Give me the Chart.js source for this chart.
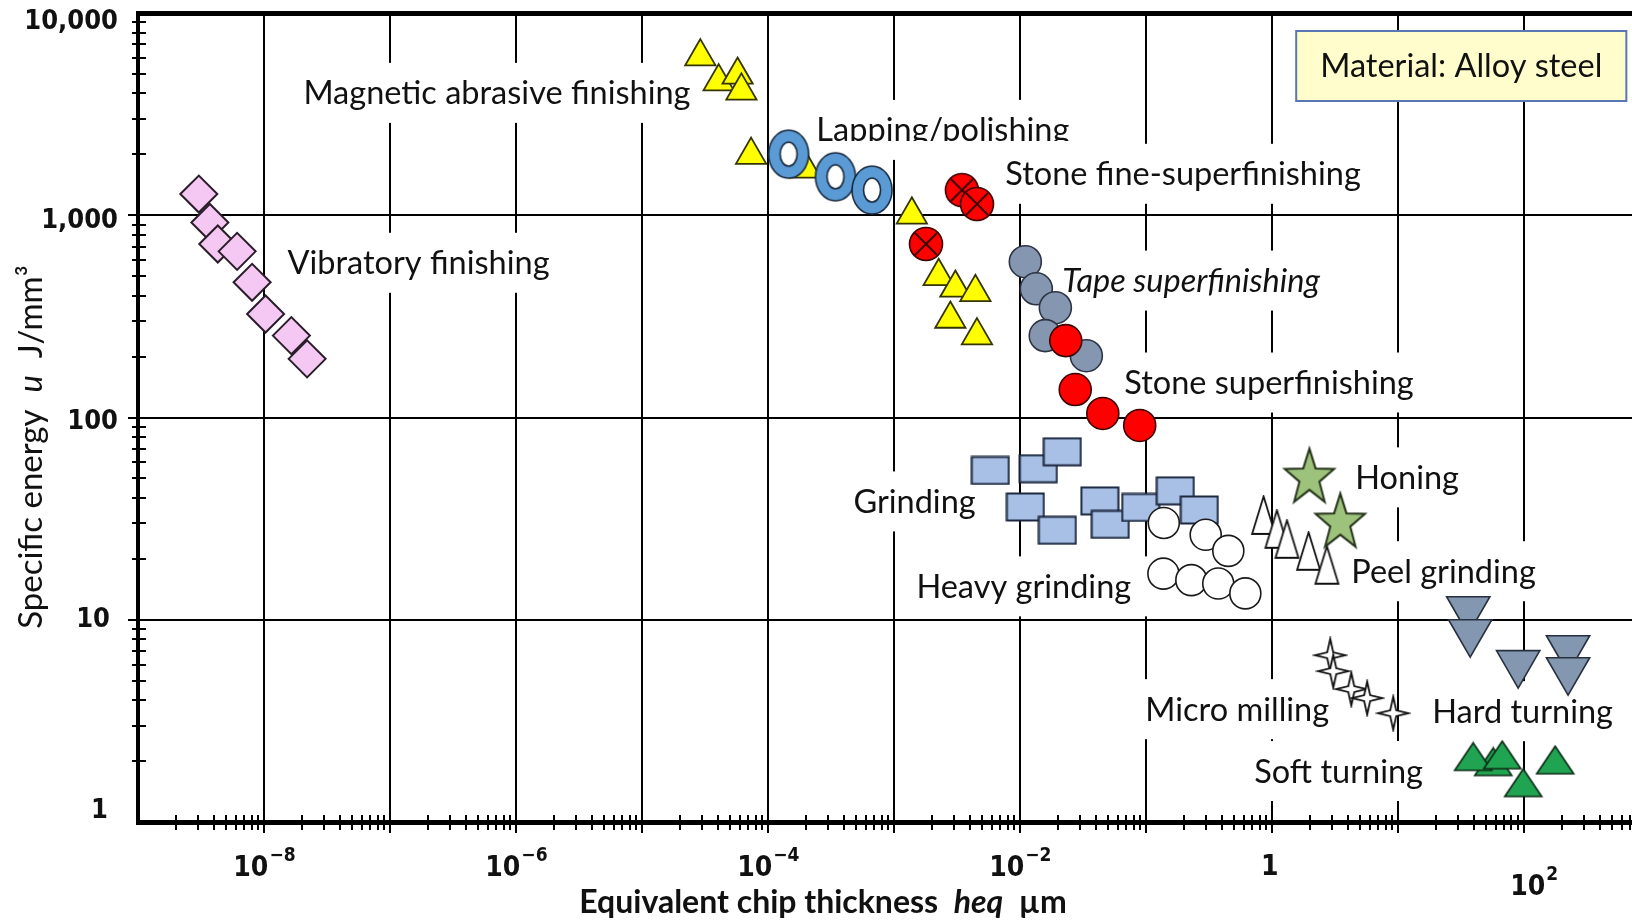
<!DOCTYPE html>
<html><head><meta charset="utf-8">
<script src="https://cdn.jsdelivr.net/npm/chart.js@4/dist/chart.umd.min.js"></script>
<style>html,body{margin:0;padding:0;background:#fff;overflow:hidden}canvas{display:block}</style>
</head><body>
<canvas id="c" width="1632" height="924" style="width:1632px;height:924px"></canvas>
<script>
// ---------- data (x = equivalent chip thickness heq in µm, y = specific energy u in J/mm³) ----------
const vibratoryX = [3.04e-9, 3.72e-9, 4.30e-9, 6.12e-9, 8.05e-9, 1.03e-8, 1.65e-8, 2.20e-8];
const vibratoryY = [1273, 921, 721, 663, 466, 325, 254, 195];
const magneticX = [2.91e-5, 4.07e-5, 5.75e-5, 6.17e-5, 7.36e-5, 1.99e-4, 1.39e-3, 2.27e-3, 3.08e-3, 4.44e-3, 2.81e-3, 4.57e-3];
const magneticY = [6085, 4580, 4940, 4120, 1983, 1697, 1005, 499, 437, 416, 307, 254];
const lappingX = [1.46e-4, 3.44e-4, 6.71e-4];
const lappingY = [2005, 1549, 1332];
const stoneFineX = [3.47e-3, 4.57e-3, 1.80e-3];
const stoneFineY = [1332, 1136, 721];
const tapeX = [0.01106, 0.01352, 0.01915, 0.01592, 0.03373];
const tapeY = [589, 433, 349, 254, 202];
const stoneX = [0.02317, 0.02754, 0.0456, 0.0895];
const stoneY = [240, 137.5, 104.7, 91.3];
const grindingX = [5.83e-3, 0.01403, 0.02173, 0.01107, 0.01987, 0.0432, 0.0522, 0.0912, 0.1714, 0.266];
const grindingY = [54.7, 55.8, 67.7, 36.1, 27.7, 38.7, 29.6, 35.9, 43.4, 34.9];
const heavyX = [0.139, 0.299, 0.452, 0.138, 0.230, 0.376, 0.617];
const heavyY = [30.1, 26.3, 21.9, 16.9, 15.7, 15.1, 13.5];
const peelX = [0.861, 1.099, 1.321, 1.96, 2.74];
const peelY = [32.8, 28.0, 25.0, 21.8, 18.6];
const honingX = [1.99, 3.50];
const honingY = [51.7, 31.0];
const microX = [2.91, 3.08, 4.28, 5.72, 9.21];
const microY = [6.68, 5.57, 4.54, 4.10, 3.45];
const hardX = [36.3, 37.6, 90.4, 225, 225];
const hardY = [11.27, 8.68, 6.10, 7.23, 5.63];
const softX = [57.3, 39.7, 67.5, 99.1, 177.8];
const softY = [1.98, 2.10, 2.14, 1.56, 2.02];

// annotation texts and their anchors (log10 of data coordinates)
const labelTexts = ["Magnetic abrasive finishing", "Vibratory finishing", "Lapping/polishing",
  "Stone fine-superfinishing", "Tape superfinishing", "Stone superfinishing", "Grinding",
  "Heavy grinding", "Honing", "Peel grinding", "Micro milling", "Hard turning", "Soft turning"];
const labelLogX = [-7.687, -7.813, -3.615, -2.115, -1.663, -1.171, -3.321, -2.821, 0.663, 0.631, -1.004, 1.274, -0.139];
const labelLogY = [3.605, 2.765, 3.422, 3.205, 2.677, 2.173, 1.585, 1.165, 1.704, 1.240, 0.558, 0.548, 0.252];
const materialText = "Material: Alloy steel";

// axes
const xMin = 1e-9, xMax = 724, yMin = 1, yMax = 10000;
const xTickExps = [-8, -6, -4, -2, 0, 2];
const yTickValues = [10000, 1000, 100, 10, 1];
const yTickTexts = ["10,000", "1,000", "100", "10", "1"];

// ---------- styling ----------
const LABEL_FONT = '"Lato", "Noto Sans", sans-serif';
const LABEL_SIZE = 32.5;
const NUM_FONT = '"DejaVu Sans Condensed", "DejaVu Sans", sans-serif';

function mk(w, h, draw) { const c = document.createElement('canvas'); c.width = w; c.height = h; draw(c.getContext('2d'), w, h); return c; }
const ringImg = mk(44, 52, (g) => {
  g.beginPath(); g.ellipse(22, 26, 20, 24, 0, 0, Math.PI * 2);
  g.fillStyle = '#5B9BD5'; g.fill(); g.lineWidth = 1.6; g.strokeStyle = '#16283c'; g.stroke();
  g.beginPath(); g.ellipse(22, 26, 8.5, 12, 0, 0, Math.PI * 2);
  g.fillStyle = '#fff'; g.fill(); g.stroke();
});
const redXImg = mk(38, 38, (g) => {
  g.beginPath(); g.arc(19, 19, 16.5, 0, Math.PI * 2);
  g.fillStyle = '#FF0000'; g.fill(); g.lineWidth = 1.6; g.strokeStyle = '#3a0000'; g.stroke();
  const d = 11; g.beginPath(); g.moveTo(19 - d, 19 - d); g.lineTo(19 + d, 19 + d); g.moveTo(19 + d, 19 - d); g.lineTo(19 - d, 19 + d);
  g.lineWidth = 2; g.stroke();
});
const rectImg = mk(40, 30, (g) => {
  g.fillStyle = '#A8C0E5'; g.fillRect(1.5, 1.5, 37, 27);
  g.lineWidth = 2; g.strokeStyle = '#1d2840'; g.strokeRect(1.5, 1.5, 37, 27);
});
const peelImg = mk(27, 41, (g) => {
  g.beginPath(); g.moveTo(13.5, 1.5); g.lineTo(25, 39); g.lineTo(2, 39); g.closePath();
  g.fillStyle = '#fff'; g.fill(); g.lineWidth = 1.8; g.strokeStyle = '#111'; g.lineJoin = 'miter'; g.stroke();
});
const softImg = mk(41, 31, (g) => {
  g.beginPath(); g.moveTo(20.5, 1.5); g.lineTo(39, 29); g.lineTo(2, 29); g.closePath();
  g.fillStyle = '#20A452'; g.fill(); g.lineWidth = 1.6; g.strokeStyle = '#0b2a15'; g.stroke();
});
const star5Img = mk(58, 62, (g) => {
  const cx = 29, cy = 33.5, R = 26, r = 10.5, sy = 1.13;
  g.beginPath();
  for (let i = 0; i < 10; i++) {
    const a = -Math.PI / 2 + i * Math.PI / 5, rr = i % 2 ? r : R;
    const px = cx + rr * Math.cos(a), py = cy + rr * Math.sin(a) * sy;
    i ? g.lineTo(px, py) : g.moveTo(px, py);
  }
  g.closePath(); g.fillStyle = '#9DC27B'; g.fill(); g.lineWidth = 2; g.strokeStyle = '#24321a'; g.stroke();
});
const star4Img = mk(36, 38, (g) => {
  const cx = 18, cy = 19, Rx = 15.5, Ry = 16.5, r = 4.2;
  g.beginPath();
  for (let i = 0; i < 8; i++) {
    const a = -Math.PI / 2 + i * Math.PI / 4;
    const px = cx + (i % 2 ? r : Rx) * Math.cos(a), py = cy + (i % 2 ? r : Ry) * Math.sin(a);
    i ? g.lineTo(px, py) : g.moveTo(px, py);
  }
  g.closePath(); g.fillStyle = '#fff'; g.fill(); g.lineWidth = 1.8; g.strokeStyle = '#111'; g.stroke();
});

const pts = (xs, ys) => xs.map((x, i) => ({ x, y: ys[i] }));
// listed bottom -> top
const seriesList = [
  { label: 'Vibratory finishing', data: pts(vibratoryX, vibratoryY), pointStyle: 'rectRot', pointRadius: 18.5, backgroundColor: '#F5C7F3', borderColor: '#2a1d2a', borderWidth: 2 },
  { label: 'Magnetic abrasive finishing', data: pts(magneticX, magneticY), pointStyle: 'triangle', pointRadius: 17.5, backgroundColor: '#FFFF00', borderColor: '#353500', borderWidth: 1.8 },
  { label: 'Lapping/polishing', data: pts(lappingX, lappingY), pointStyle: ringImg, pointRadius: 20 },
  { label: 'Stone fine-superfinishing', data: pts(stoneFineX, stoneFineY), pointStyle: redXImg, pointRadius: 16 },
  { label: 'Tape superfinishing', data: pts(tapeX, tapeY), pointStyle: 'circle', pointRadius: 16, backgroundColor: '#8597B0', borderColor: '#2c3444', borderWidth: 1.6 },
  { label: 'Stone superfinishing', data: pts(stoneX, stoneY), pointStyle: 'circle', pointRadius: 16, backgroundColor: '#FF0000', borderColor: '#3a0000', borderWidth: 1.6 },
  { label: 'Grinding', data: pts(grindingX, grindingY), pointStyle: rectImg, pointRadius: 15 },
  { label: 'Heavy grinding', data: pts(heavyX, heavyY), pointStyle: 'circle', pointRadius: 15.5, backgroundColor: '#FFFFFF', borderColor: '#1a1a1a', borderWidth: 1.6 },
  { label: 'Peel grinding', data: pts(peelX, peelY), pointStyle: peelImg, pointRadius: 15 },
  { label: 'Honing', data: pts(honingX, honingY), pointStyle: star5Img, pointRadius: 20 },
  { label: 'Micro milling', data: pts(microX, microY), pointStyle: star4Img, pointRadius: 12 },
  { label: 'Hard turning', data: pts(hardX, hardY), pointStyle: 'triangle', rotation: 180, pointRadius: 25, backgroundColor: '#8497B0', borderColor: '#27303f', borderWidth: 1.6 },
  { label: 'Soft turning', data: pts(softX, softY), pointStyle: softImg, pointRadius: 15 }
];
const datasets = seriesList.map((s, i) => Object.assign({ order: seriesList.length - i, pointHoverRadius: s.pointRadius }, s));

const isDecade = v => { const l = Math.log10(v); return Math.abs(l - Math.round(l)) < 1e-6; };

const annot = {
  id: 'annot',
  beforeDatasetsDraw(chart) {
    const g = chart.ctx, xs = chart.scales.x, ys = chart.scales.y;
    g.save();
    // Material box
    g.font = LABEL_SIZE + 'px ' + LABEL_FONT;
    const mw = g.measureText(materialText).width;
    const bx = xs.getPixelForValue(Math.pow(10, 0.194)), by = ys.getPixelForValue(Math.pow(10, 3.911));
    const bw = mw + 48, bh = 70;
    g.fillStyle = '#FEFDCB'; g.fillRect(bx, by, bw, bh);
    g.lineWidth = 2; g.strokeStyle = '#5878B4'; g.strokeRect(bx, by, bw, bh);
    g.fillStyle = '#111'; g.textBaseline = 'middle'; g.textAlign = 'left';
    g.fillText(materialText, bx + 24, by + bh / 2 + 1);
    // process labels with white boxes
    labelTexts.forEach((t, i) => {
      const italic = t === 'Tape superfinishing';
      g.font = (italic ? 'italic ' : '') + LABEL_SIZE + 'px ' + LABEL_FONT;
      const w = g.measureText(t).width;
      const px = xs.getPixelForValue(Math.pow(10, labelLogX[i]));
      const py = ys.getPixelForValue(Math.pow(10, labelLogY[i]));
      g.fillStyle = '#fff'; g.fillRect(px - 18, py - 30, w + 36, 60);
      g.save();
      if (t === 'Lapping/polishing') { g.beginPath(); g.rect(px - 18, py - 40, w + 36, 51); g.clip(); }
      g.fillStyle = '#111'; g.textBaseline = 'middle';
      g.fillText(t, px, py + 1);
      g.restore();
    });
    g.restore();
  },
  afterDraw(chart) {
    const g = chart.ctx, xs = chart.scales.x, ys = chart.scales.y, a = chart.chartArea;
    g.save();
    g.strokeStyle = '#000'; g.lineWidth = 2;
    // minor / major ticks on y axis
    for (let e = 0; e <= 3; e++) for (let m = 1; m <= 9; m++) {
      const v = m * Math.pow(10, e); if (v <= yMin || v >= yMax) continue;
      const p = Math.round(ys.getPixelForValue(v));
      g.beginPath();
      if (m === 1) { g.moveTo(a.left - 10, p); g.lineTo(a.left, p); }
      else { g.moveTo(a.left - 6, p); g.lineTo(a.left + 8, p); }
      g.stroke();
    }
    // ticks on x axis
    for (let e = -9; e <= 2; e++) for (let m = 1; m <= 9; m++) {
      const v = m * Math.pow(10, e); if (v <= xMin * 1.0001 || v >= xMax) continue;
      const p = Math.round(xs.getPixelForValue(v));
      g.beginPath();
      if (m === 1) { g.moveTo(p, a.bottom - 8); g.lineTo(p, a.bottom + 11); }
      else { g.moveTo(p, a.bottom - 7); g.lineTo(p, a.bottom + 8); }
      g.stroke();
    }
    // y tick labels
    const yNudge = [9, 6, 4, 0, -11];
    const yRight = [118, 118, 118, 110, 108];
    g.fillStyle = '#111'; g.textBaseline = 'middle'; g.textAlign = 'right';
    g.font = 'bold 27px ' + NUM_FONT;
    yTickValues.forEach((v, i) => g.fillText(yTickTexts[i], yRight[i], ys.getPixelForValue(v) + yNudge[i]));
    // x tick labels (powers of ten)
    const xNudgeY = [3, 3, 3, 3, 2, 22];
    const xNudgeX = [0, 0, 0, 0, -2, 10];
    g.textAlign = 'left';
    xTickExps.forEach((e, i) => {
      const cx = xs.getPixelForValue(Math.pow(10, e)) + xNudgeX[i];
      const cy = a.bottom + 44 + xNudgeY[i];
      g.font = 'bold 28px ' + NUM_FONT;
      if (e === 0) { const w = g.measureText('1').width; g.fillText('1', cx - w / 2, cy); return; }
      const base = '10', sup = e < 0 ? '\u2212' + (-e) : String(e);
      const wb = g.measureText(base).width;
      g.font = 'bold 19px ' + NUM_FONT;
      const ws = g.measureText(sup).width;
      const left = cx - (wb + ws) / 2;
      g.font = 'bold 28px ' + NUM_FONT; g.fillText(base, left, cy);
      g.font = 'bold 19px ' + NUM_FONT; g.fillText(sup, left + wb + 1, cy - 13);
    });
    // x axis title
    const xt = [['Equivalent chip thickness  ', 'bold '], ['heq', 'italic bold '], ['  \u00B5m', 'bold ']];
    let tw = 0; xt.forEach(s => { g.font = s[1] + '32px ' + LABEL_FONT; tw += g.measureText(s[0]).width; });
    let x0 = 823 - tw / 2;
    xt.forEach(s => { g.font = s[1] + '32px ' + LABEL_FONT; g.fillText(s[0], x0, 903); x0 += g.measureText(s[0]).width; });
    // y axis title
    g.translate(31, 447); g.rotate(-Math.PI / 2);
    const yt = [['Specific energy  ', ''], ['u', 'italic '], ['  J/mm\u00B3', '']];
    tw = 0; yt.forEach(s => { g.font = s[1] + '33px ' + LABEL_FONT; tw += g.measureText(s[0]).width; });
    x0 = -tw / 2;
    yt.forEach(s => { g.font = s[1] + '33px ' + LABEL_FONT; g.fillText(s[0], x0, 0); x0 += g.measureText(s[0]).width; });
    g.restore();
  }
};

new Chart(document.getElementById('c'), {
  type: 'scatter',
  data: { datasets },
  options: {
    responsive: false, animation: false, events: [],
    layout: { autoPadding: false, padding: { left: 138, right: 0, top: 13, bottom: 102 } },
    plugins: { legend: { display: false }, tooltip: { enabled: false } },
    scales: {
      x: {
        type: 'logarithmic', min: xMin, max: xMax,
        ticks: { display: false },
        grid: { drawTicks: false, lineWidth: 2, color: c => (c.tick && isDecade(c.tick.value)) ? '#000' : 'rgba(0,0,0,0)' },
        border: { display: true, color: '#000', width: 5 }
      },
      y: {
        type: 'logarithmic', min: yMin, max: yMax,
        ticks: { display: false },
        grid: { drawTicks: false, lineWidth: c => (c.tick && c.tick.value >= 9999) ? 5 : 2, color: c => (c.tick && isDecade(c.tick.value)) ? '#000' : 'rgba(0,0,0,0)' },
        border: { display: true, color: '#000', width: 4 }
      }
    }
  },
  plugins: [annot]
});
</script>
</body></html>
